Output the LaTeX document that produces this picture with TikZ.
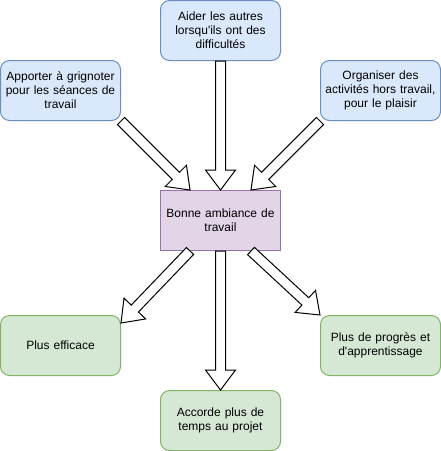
\documentclass[tikz,border=0pt]{standalone}
\usepackage{fontspec}
\setmainfont{Liberation Sans}
\usetikzlibrary{calc}
\definecolor{bluefill}{HTML}{DAE8FC}
\definecolor{bluedraw}{HTML}{6C8EBF}
\definecolor{greenfill}{HTML}{D5E8D4}
\definecolor{greendraw}{HTML}{82B366}
\definecolor{purplefill}{HTML}{E1D5E7}
\definecolor{purpledraw}{HTML}{9673A6}
\tikzset{
  boxbase/.style={minimum width=120pt, minimum height=60pt, text width=114pt, align=center,
    line width=1pt, inner sep=0pt, font=\fontsize{12}{14}\selectfont},
  bluebox/.style={boxbase, rounded corners=9pt, fill=bluefill, draw=bluedraw},
  greenbox/.style={boxbase, rounded corners=9pt, fill=greenfill, draw=greendraw},
  purplebox/.style={boxbase, fill=purplefill, draw=purpledraw},
  flexarrow/.style={draw=black, fill=white, line width=1pt, line join=miter}
}
\newcommand\flexarr[2]{%
  \coordinate (fa-n) at ($(#2)!20pt!(#1)$);
  \draw[flexarrow] ($(#1)!5pt!90:(#2)$) -- ($(fa-n)!5pt!90:(#2)$) -- ($(fa-n)!15pt!90:(#2)$) -- (#2)
    -- ($(fa-n)!15pt!-90:(#2)$) -- ($(fa-n)!5pt!-90:(#2)$) -- ($(#1)!5pt!-90:(#2)$) -- cycle;}
\begin{document}
\begin{tikzpicture}[x=1pt, y=-1pt]
\useasboundingbox (0,0) rectangle (441,451);
\node[bluebox] (t) at (220.5,30.5) {Aider les autres\\lorsqu\textquotesingle ils ont des\\difficultés};
\node[bluebox] (lt) at (60.5,90.5) {Apporter à grignoter\\pour les séances de\\travail};
\node[bluebox] (rt) at (380.5,90.5) {Organiser des\\activités hors travail,\\pour le plaisir};
\node[purplebox] (c) at (220.5,220.5) {Bonne ambiance de\\travail};
\node[greenbox] (lb) at (60.5,345.5) {Plus efficace};
\node[greenbox] (b) at (220.5,420.5) {Accorde plus de\\temps au projet};
\node[greenbox] (rb) at (380.5,345.5) {Plus de progrès et\\d\textquotesingle apprentissage};
\coordinate (a1s) at (lt.south east);
\coordinate (a1t) at ($(c.north west)+(30,0)$);
\coordinate (a2s) at (t.south);
\coordinate (a2t) at (c.north);
\coordinate (a3s) at (rt.south west);
\coordinate (a3t) at ($(c.north east)+(-30,0)$);
\coordinate (b1s) at ($(c.south west)+(30,0)$);
\coordinate (b1t) at ($(lb.north east)+(0,8)$);
\coordinate (b2s) at (c.south);
\coordinate (b2t) at (b.north);
\coordinate (b3s) at ($(c.south east)+(-30,0)$);
\coordinate (b3t) at (rb.north west);
\flexarr{a1s}{a1t}
\flexarr{a2s}{a2t}
\flexarr{a3s}{a3t}
\flexarr{b1s}{b1t}
\flexarr{b2s}{b2t}
\flexarr{b3s}{b3t}
\end{tikzpicture}
\end{document}
